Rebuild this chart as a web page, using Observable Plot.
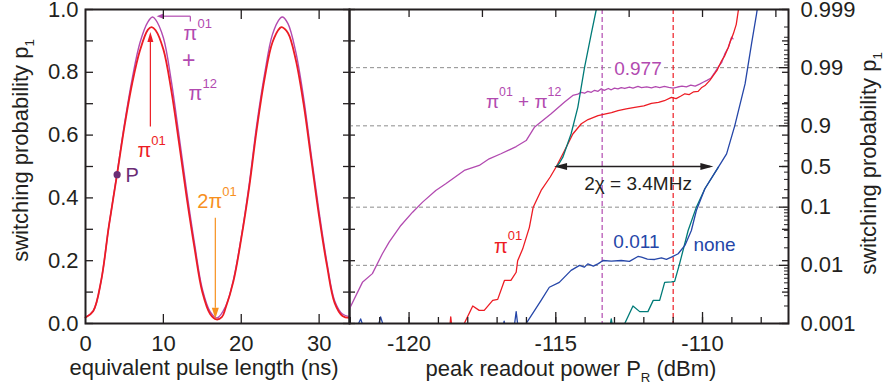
<!DOCTYPE html>
<html>
<head>
<meta charset="utf-8">
<script src="https://cdn.jsdelivr.net/npm/d3@7"></script>
<script src="https://cdn.jsdelivr.net/npm/@observablehq/plot@0.6"></script>
<style>
  body { margin: 0; background: #fff; }
  #wrap { display: flex; width: 889px; height: 388px; overflow: hidden; background: #fff; }
  #wrap svg { flex: none; overflow: visible; }
</style>
</head>
<body>
<div id="wrap"></div>
<script>
// ---------- colours & fonts ----------
const FONT = "'Liberation Sans', Arial, Helvetica, sans-serif";
const INK = "#231f20";
const PINK = "#b24ab0", RED = "#ed1c24", BLUE = "#2546a8", TEAL = "#007b78",
      ORANGE = "#f7901e", DOT = "#6b2c74", GRID = "#8c8c8c";

// ---------- left panel: Rabi oscillation ----------
const pulseRedT = [0,1,2,3,4,5,6,7,8,8.5,9,10,11,12,13,14,15,16,16.8,17.5,18,19,20,21,22,23,24,25,25.2,26,27,28,29,30,31,32,33,33.9];
const pulseRedP = [.019,.040,.135,.31,.466,.627,.765,.87,.935,.944,.934,.873,.745,.577,.40,.24,.10,.03,.013,.02,.05,.135,.27,.43,.62,.78,.895,.942,.944,.925,.84,.70,.52,.34,.185,.065,.024,.018];
const pulsePinkT = [0,1,2,3,4,5,6,7,8,8.6,9,10,11,12,13,14,15,16,16.9,18,19,20,21,22,23,24,25,25.3,26,27,28,29,30,31,32,33,33.9];
const pulsePinkP = [.02,.04,.135,.31,.47,.635,.78,.895,.96,.976,.968,.91,.775,.60,.42,.255,.11,.038,.018,.055,.14,.275,.44,.635,.795,.92,.972,.976,.955,.865,.72,.535,.355,.195,.072,.03,.022];
const pointP = [{t: 4.06, p: 0.474}];

const leftXTicks = [0, 10, 20, 30];
const leftYTicks = [0, 0.2, 0.4, 0.6, 0.8, 1.0];

const leftLabels = [
  {t: 12.6,  p: 0.9235, s: "π^{01}",  c: PINK,   a: "start",  fs: 20},
  {t: 13.24, p: 0.8374, s: "+",       c: PINK,   a: "middle", fs: 23},
  {t: 13.24, p: 0.732,  s: "π^{12}",  c: PINK,   a: "start",  fs: 20},
  {t: 6.68,  p: 0.5505, s: "π^{01}",  c: RED,    a: "start",  fs: 20},
  {t: 5.14,  p: 0.4708, s: "P",       c: DOT,    a: "start",  fs: 20},
  {t: 14.36, p: 0.388,  s: "2π^{01}", c: ORANGE, a: "start",  fs: 20}
];
const leftLinks = [
  {x1: 13.46, y1: 0.962,  x2: 13.46, y2: 0.9787, c: PINK},
  {x1: 13.46, y1: 0.9787, x2: 9.9,   y2: 0.9787, c: PINK},
  {x1: 8.33,  y1: 0.627,  x2: 8.33,  y2: 0.90,   c: RED},
  {x1: 16.67, y1: 0.337,  x2: 16.67, y2: 0.05,   c: ORANGE}
];
const leftHeads = [
  {x: 9.13,  y: 0.9787, rot: -90, len: 7,  r: 2.6, c: PINK},
  {x: 8.33,  y: 0.928,  rot: 0,   len: 10, r: 3,   c: RED},
  {x: 16.67, y: 0.015,  rot: 180, len: 11, r: 3.5, c: ORANGE}
];

// ---------- right panel: switching curves (dBm, p) ----------
const curvePiPi = [[-122.03,.0018],[-121.59,.0051],[-121.25,.0072],[-120.91,.0158],[-120.68,.025],[-120.28,.0484],[-119.88,.082],[-119.54,.122],[-119.09,.194],[-118.75,.252],[-118.12,.427],[-117.61,.52],[-117.27,.631],[-116.87,.698],[-116.35,.773],[-116.01,.821],[-115.73,.894],[-115.16,.938],[-114.70,.961],[-114.42,.970],[-114.25,.9715],[-114.13,.9735],[-114.02,.9725],[-113.91,.9745],[-113.79,.9735],[-113.68,.9755],[-113.56,.9745],[-113.45,.977],[-113.35,.9755],[-113.21,.9772],[-113.11,.976],[-113.0,.9775],[-112.88,.9768],[-112.77,.978],[-112.65,.9772],[-112.49,.9785],[-112.37,.9776],[-112.2,.979],[-112.08,.978],[-111.9,.9786],[-111.74,.9778],[-111.6,.9788],[-111.46,.978],[-111.3,.979],[-111.15,.9782],[-111.0,.9776],[-110.85,.9785],[-110.7,.9792],[-110.55,.9786],[-110.4,.98],[-110.25,.9792],[-110.1,.9808],[-109.98,.9822],[-109.85,.9835],[-109.72,.9848],[-109.58,.988],[-109.45,.9905],[-109.35,.9918],[-109.24,.9942],[-109.12,.9955],[-109.01,.997],[-108.96,.9968]];
const curvePi01 = [[-118.92,.0005],[-118.64,.0006],[-118.58,.0013],[-118.51,.0006],[-118.20,.0006],[-118.12,.001],[-117.83,.002],[-117.61,.00168],[-117.44,.00168],[-117.15,.0025],[-116.98,.0026],[-116.75,.0055],[-116.53,.0055],[-116.35,.0076],[-116.30,.012],[-116.13,.019],[-115.90,.045],[-115.77,.10],[-115.50,.194],[-115.19,.33],[-114.98,.5],[-114.70,.734],[-114.42,.862],[-114.13,.908],[-113.9,.922],[-113.56,.9335],[-113.3,.938],[-113.1,.941],[-112.88,.9454],[-112.6,.949],[-112.31,.952],[-112.0,.9545],[-111.74,.959],[-111.5,.9605],[-111.3,.963],[-111.06,.9677],[-110.9,.966],[-110.75,.969],[-110.6,.9719],[-110.45,.971],[-110.3,.974],[-110.15,.9745],[-110.04,.9778],[-109.9,.98],[-109.75,.9835],[-109.63,.9864],[-109.5,.989],[-109.35,.9924],[-109.24,.9938],[-109.12,.99554],[-109.05,.9965],[-108.95,.99738],[-108.85,.9982],[-108.78,.99896],[-108.74,.9993]];
const curveNone = [[-122.03,.0005],[-121.92,.0006],[-121.65,.0012],[-121.45,.0006],[-121.14,.0006],[-120.97,.0013],[-120.76,.0006],[-116.87,.0006],[-116.76,.0011],[-116.66,.0006],[-116.46,.0006],[-116.35,.0016],[-116.25,.0006],[-116.08,.0007],[-116.01,.001],[-115.50,.0025],[-115.22,.0042],[-114.88,.0051],[-114.48,.0082],[-114.19,.0100],[-114.03,.0093],[-113.91,.0106],[-113.72,.0097],[-113.55,.0107],[-113.39,.0121],[-113.11,.0118],[-112.77,.0121],[-112.49,.0117],[-112.20,.0142],[-112.08,.0138],[-111.88,.0128],[-111.63,.0126],[-111.40,.0134],[-111.23,.0127],[-111.06,.0138],[-110.83,.0158],[-110.60,.022],[-110.38,.0397],[-110.21,.0877],[-109.92,.207],[-109.46,.486],[-109.18,.697],[-108.90,.901],[-108.55,.981],[-108.33,.9961],[-108.16,.9988],[-108.09,.9993]];
const curveTealLow = [[-113.21,.0006],[-113.11,.0012],[-113.01,.0006],[-112.73,.0006],[-112.65,.001],[-112.37,.002],[-112.14,.0016],[-111.86,.0016],[-111.68,.0025],[-111.46,.0025],[-111.29,.0051],[-111.06,.0052],[-110.95,.0053],[-110.78,.0107],[-110.49,.0397],[-110.21,.10],[-109.92,.207],[-109.46,.486]];
const curveTealUp = [[-114.98,.5],[-114.88,.56],[-114.76,.654],[-114.48,.862],[-114.25,.952],[-114.02,.9901],[-113.79,.9974],[-113.62,.999],[-113.55,.9994]];

const rightXMajor = [-120, -115, -110];
const rightYMajor = [0.001, 0.01, 0.1, 0.5, 0.9, 0.99, 0.999];
const rightYMinor = [0.002,0.003,0.004,0.005,0.006,0.007,0.008,0.009,0.02,0.03,0.04,0.05,0.06,0.07,0.08,0.09,0.2,0.3,0.4,0.6,0.7,0.8,0.91,0.92,0.93,0.94,0.95,0.96,0.97,0.98,0.991,0.992,0.993,0.994,0.995,0.996,0.997,0.998];
const gridP = [0.01, 0.1, 0.9, 0.99];
const dashPink = -113.42, dashRed = -111.0;

const rightLabels = [
  {x: -117.38, p: 0.9609, s: "π^{01} + π^{12}", c: PINK, halo: false, fs: 19},
  {x: -113.01, p: 0.98943, s: "0.977", c: PINK, halo: true, fs: 19},
  {x: -117.11, p: 0.0211, s: "π^{01}", c: RED, halo: false, fs: 20},
  {x: -113.04, p: 0.025, s: "0.011", c: BLUE, halo: false, fs: 19},
  {x: -110.31, p: 0.0226, s: "none", c: BLUE, halo: false, fs: 19},
  {x: -114.03, p: 0.2535, s: "2χ = 3.4MHz", c: INK, halo: false, fs: 19}
];
const chiArrow = {x1: -114.95, x2: -109.75, p: 0.5};
const chiHeads = [{x: -115.06, rot: -90}, {x: -109.63, rot: 90}];

// ---------- scale helpers ----------
// right axis: log10(p) below 0.5, -log10(1-p) above 0.5 (mirrored log)
const T = p => p <= 0.5 ? Math.log10(p / 0.5) : -Math.log10((1 - p) / 0.5);
const YMIN = T(0.001), YMAX = T(0.999);
const linToT = v => YMIN + v * (YMAX - YMIN);
const tenths = d3.range(0, 11).map(k => k / 10);
const blank = () => "";
const majorLabel = new Map(rightYMajor.map(p => [T(p), String(p)]));

const H = 388, MT = 9, MB = 65;
const baseStyle = {fontFamily: FONT, fontSize: "22px", color: INK, background: "none", overflow: "visible"};

// ---------- LEFT PLOT ----------
const redData = pulseRedT.map((t, i) => ({t, p: pulseRedP[i]}));
const pinkData = pulsePinkT.map((t, i) => ({t, p: pulsePinkP[i]}));

const left = Plot.plot({
  width: 349, height: H, marginLeft: 85, marginRight: 0, marginTop: MT, marginBottom: MB,
  style: baseStyle,
  x: {domain: [0, 33.9]},
  y: {domain: [0, 1]},
  marks: [
    Plot.line(pinkData, {x: "t", y: "p", stroke: PINK, strokeWidth: 1.4, curve: "catmull-rom"}),
    Plot.line(redData, {x: "t", y: "p", stroke: RED, strokeWidth: 1.8, curve: "catmull-rom"}),
    ...leftLinks.map(d => Plot.link([d], {x1: "x1", y1: "y1", x2: "x2", y2: "y2", stroke: d.c, strokeWidth: 1.2})),
    ...leftHeads.map(d => Plot.vector([d], {x: "x", y: "y", rotate: d.rot, length: d.len, r: d.r, anchor: "end", shape: "spike", fill: d.c, stroke: "none"})),
    Plot.dot(pointP, {x: "t", y: "p", r: 3.6, fill: DOT, stroke: "none"}),
    ...leftLabels.map(d => Plot.text([d], {x: "t", y: "p", text: "s", fill: d.c, textAnchor: d.a, lineAnchor: "middle", fontSize: d.fs})),
    // inward ticks
    Plot.axisY(tenths, {anchor: "left", tickSize: 8, dx: 8, tickFormat: blank, label: null, strokeWidth: 1.3}),
    Plot.axisY(tenths, {anchor: "right", tickSize: 7, dx: -7, tickFormat: blank, label: null, strokeWidth: 1.3}),
    Plot.axisX([10, 20, 30], {anchor: "bottom", tickSize: 9, dy: -9, tickFormat: blank, label: null, strokeWidth: 1.3}),
    Plot.axisX([10, 20, 30], {anchor: "top", tickSize: 9, dy: 9, tickFormat: blank, label: null, strokeWidth: 1.3}),
    // tick labels
    Plot.axisY(leftYTicks, {anchor: "left", tickSize: 0, tickPadding: 7, tickFormat: d3.format(".1f"), label: null, fontSize: 22}),
    Plot.axisX(leftXTicks, {anchor: "bottom", tickSize: 0, tickPadding: 12, tickFormat: d => String(d), label: null, fontSize: 22}),
    // titles
    Plot.text(["switching probability p_{1}"], {frameAnchor: "left", text: d => d, rotate: -90, textAnchor: "middle", lineAnchor: "middle", dx: -65, dy: -16, fontSize: 22, fill: INK}),
    Plot.text(["equivalent pulse length (ns)"], {frameAnchor: "bottom", text: d => d, textAnchor: "middle", lineAnchor: "middle", dx: -13.5, dy: 44, fontSize: 22, fill: INK}),
    Plot.frame({stroke: INK, strokeWidth: 2})
  ]
});

// ---------- RIGHT PLOT ----------
const pt = d => ({x: d[0], y: T(d[1])});
const right = Plot.plot({
  width: 540, height: H, marginLeft: 0, marginRight: 101, marginTop: MT, marginBottom: MB,
  style: baseStyle,
  x: {domain: [-122.03, -107.07]},
  y: {domain: [YMIN, YMAX]},
  marks: [
    Plot.ruleY(gridP, {y: T, stroke: GRID, strokeDasharray: "4,3", strokeWidth: 1}),
    Plot.ruleX([dashPink], {stroke: PINK, strokeDasharray: "5,3", strokeWidth: 1.2}),
    Plot.ruleX([dashRed], {stroke: RED, strokeDasharray: "5,3", strokeWidth: 1.2}),
    Plot.line(curvePiPi.map(pt), {x: "x", y: "y", stroke: PINK, strokeWidth: 1.3, clip: true}),
    Plot.line(curvePi01.map(pt), {x: "x", y: "y", stroke: RED, strokeWidth: 1.3, clip: true}),
    Plot.line(curveTealUp.map(pt), {x: "x", y: "y", stroke: TEAL, strokeWidth: 1.3, clip: true}),
    Plot.line(curveTealLow.map(pt), {x: "x", y: "y", stroke: TEAL, strokeWidth: 1.3, clip: true}),
    Plot.line(curveNone.map(pt), {x: "x", y: "y", stroke: BLUE, strokeWidth: 1.3, clip: true}),
    // 2chi arrow
    Plot.link([chiArrow], {x1: "x1", x2: "x2", y1: d => T(d.p), y2: d => T(d.p), stroke: INK, strokeWidth: 1.3}),
    Plot.vector(chiHeads, {x: "x", y: () => T(chiArrow.p), rotate: d => d.rot, length: 13, r: 3.6, anchor: "end", shape: "spike", fill: INK, stroke: "none"}),
    ...rightLabels.map(d => Plot.text([d], {x: "x", y: e => T(e.p), text: "s", fill: d.c, textAnchor: "start", lineAnchor: "middle", fontSize: d.fs,
      stroke: d.halo ? "white" : undefined, strokeWidth: d.halo ? 8 : undefined, paintOrder: d.halo ? "stroke" : undefined})),
    // inward ticks
    Plot.axisX(d3.range(-122, -107, 1), {anchor: "bottom", tickSize: 6, dy: -6, tickFormat: blank, label: null, strokeWidth: 1.3}),
    Plot.axisX(rightXMajor, {anchor: "bottom", tickSize: 11, dy: -11, tickFormat: blank, label: null, strokeWidth: 1.3}),
    Plot.axisX(d3.range(-120, -107, 2.5), {anchor: "top", tickSize: 7, dy: 7, tickFormat: blank, label: null, strokeWidth: 1.3}),
    Plot.axisY(tenths.map(linToT), {anchor: "left", tickSize: 6, dx: 6, tickFormat: blank, label: null, strokeWidth: 1.3}),
    Plot.axisY(tenths.map(linToT), {anchor: "right", tickSize: 7, dx: -7, tickFormat: blank, label: null, strokeWidth: 1.3}),
    Plot.axisY(rightYMinor.map(T), {anchor: "right", tickSize: 5, dx: -5, tickFormat: blank, label: null, strokeWidth: 1}),
    Plot.axisY(rightYMajor.map(T), {anchor: "right", tickSize: 10, dx: -10, tickFormat: blank, label: null, strokeWidth: 1.3}),
    // tick labels
    Plot.axisX(rightXMajor, {anchor: "bottom", tickSize: 0, tickPadding: 12, tickFormat: d => String(d), label: null, fontSize: 22}),
    Plot.axisY(rightYMajor.map(T), {anchor: "right", tickSize: 0, tickPadding: 12, tickFormat: d => majorLabel.get(d), label: null, fontSize: 22}),
    // titles
    Plot.text(["switching probability p_{1}"], {frameAnchor: "right", text: d => d, rotate: -90, textAnchor: "middle", lineAnchor: "middle", dx: 80, dy: -3, fontSize: 22, fill: INK}),
    Plot.text(["peak readout power P_{R} (dBm)"], {frameAnchor: "bottom", text: d => d, textAnchor: "middle", lineAnchor: "middle", dx: 2, dy: 45, fontSize: 22, fill: INK}),
    Plot.frame({stroke: INK, strokeWidth: 2})
  ]
});

const wrap = document.getElementById("wrap");
wrap.appendChild(left);
wrap.appendChild(right);

// ---------- superscripts / subscripts as tspans ----------
function richText(svg) {
  d3.select(svg).selectAll("text").each(function() {
    const s = this.textContent;
    if (!/[\^_]\{/.test(s)) return;
    const fs = parseFloat(getComputedStyle(this).fontSize) || 20;
    const sel = d3.select(this);
    sel.text(null);
    const re = /([\^_])\{([^}]*)\}/g;
    let last = 0, m, shift = 0;
    const add = (txt, kind) => {
      const t = sel.append("tspan").text(txt);
      let target = 0;
      if (kind === "^") { t.attr("font-size", fs * 0.65); target = -fs * 0.62; }
      else if (kind === "_") { t.attr("font-size", fs * 0.6); target = fs * 0.3; }
      const d = target - shift;
      if (d) t.attr("dy", d);
      shift = target;
    };
    while ((m = re.exec(s))) {
      if (m.index > last) add(s.slice(last, m.index), null);
      add(m[2], m[1]);
      last = re.lastIndex;
    }
    if (last < s.length) add(s.slice(last), null);
  });
}
richText(left);
richText(right);
</script>
</body>
</html>
